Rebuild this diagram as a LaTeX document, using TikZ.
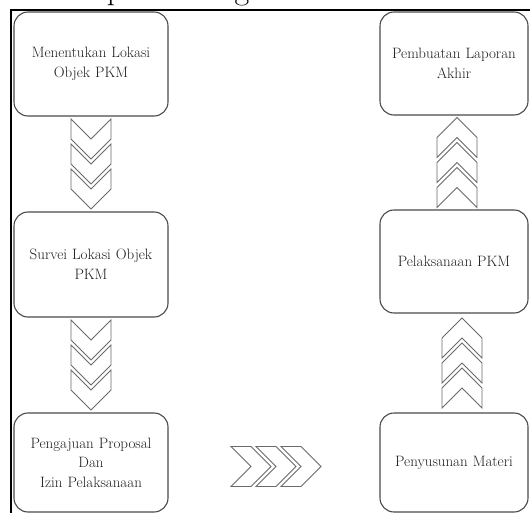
\documentclass[tikz,border=0pt]{standalone}
\usetikzlibrary{calc}
\definecolor{boxgray}{HTML}{4A4A4A}
\definecolor{txtgray}{HTML}{1E1E1E}
\definecolor{chevgray}{HTML}{6A6A6A}
\begin{document}
\begin{tikzpicture}[x=1pt,y=-1pt,
  stepbox/.style={draw=boxgray, line width=1.1pt, rounded corners=14pt,
    align=center, text=txtgray, inner sep=0pt, text width=148pt,
    font=\fontsize{15}{19.5}\selectfont},
  leftbox/.style={stepbox, minimum width=154pt},
  rightbox/.style={stepbox, minimum width=148pt},
  chevline/.style={draw=chevgray, line width=0.9pt, line join=miter},
  chevdown/.pic={\foreach \i in {0,1,2}{\pgfmathsetmacro{\t}{-45+25*\i}
      \draw[chevline] (-20,\t) -- (0,\t+20) -- (20,\t) -- (20,\t+20) -- (0,\t+40) -- (-20,\t+20) -- cycle;}},
  chevup/.pic={\foreach \i in {0,1,2}{\pgfmathsetmacro{\t}{45-25*\i}
      \draw[chevline] (-20,\t) -- (0,\t-20) -- (20,\t) -- (20,\t-20) -- (0,\t-40) -- (-20,\t-20) -- cycle;}},
  chevright/.pic={\foreach \i in {0,1,2}{\pgfmathsetmacro{\l}{-45+25*\i}
      \draw[chevline] (\l,-20) -- (\l+20,-20) -- (\l+40,0) -- (\l+20,20) -- (\l,20) -- (\l+20,0) -- cycle;}}
]
\useasboundingbox (0,0) rectangle (530,513);
\fill[white] (0,0) rectangle (530,513);

% cut-off caption glyphs at the top edge (as in the reference)
\begin{scope}
  \clip (0,0) rectangle (530,513);
  \node[anchor=base, inner sep=0pt, font=\fontsize{32}{36}\selectfont] (tp) at (115,0) {p};
  \node[anchor=base, inner sep=0pt, font=\fontsize{32}{36}\selectfont] (tg) at (242,0) {g};
\end{scope}

% frame
\draw[line width=1.4pt] (11,513) -- (11,10) -- (530,10);

% left column
\node[leftbox, minimum height=104pt] (b1) at (91,64) {Menentukan Lokasi\\Objek PKM};
\node[leftbox, minimum height=105pt] (b2) at (91,264.5) {Survei Lokasi Objek\\PKM};
\node[leftbox, minimum height=99pt] (b3) at (91,462.5) {Pengajuan Proposal\\Dan\\Izin Pelaksanaan};

% right column
\node[rightbox, minimum height=103pt] (r1) at (454,63.5) {Pembuatan Laporan\\Akhir};
\node[rightbox, minimum height=103pt] (r2) at (454,261.5) {Pelaksanaan PKM};
\node[rightbox, minimum height=99pt] (r3) at (454,462.5) {Penyusunan Materi};

% chevron connectors
\path ($(b1.south)!0.5!(b2.north)$) pic {chevdown};
\path ($(b2.south)!0.5!(b3.north)$) pic {chevdown};
\path ($(b3.east)!0.5!(r3.west)+(2,4)$) pic {chevright};
\path ($(r3.north)!0.5!(r2.south)+(8,0)$) pic {chevup};
\path ($(r2.north)!0.5!(r1.south)+(3,0)$) pic {chevup};
\end{tikzpicture}
\end{document}
